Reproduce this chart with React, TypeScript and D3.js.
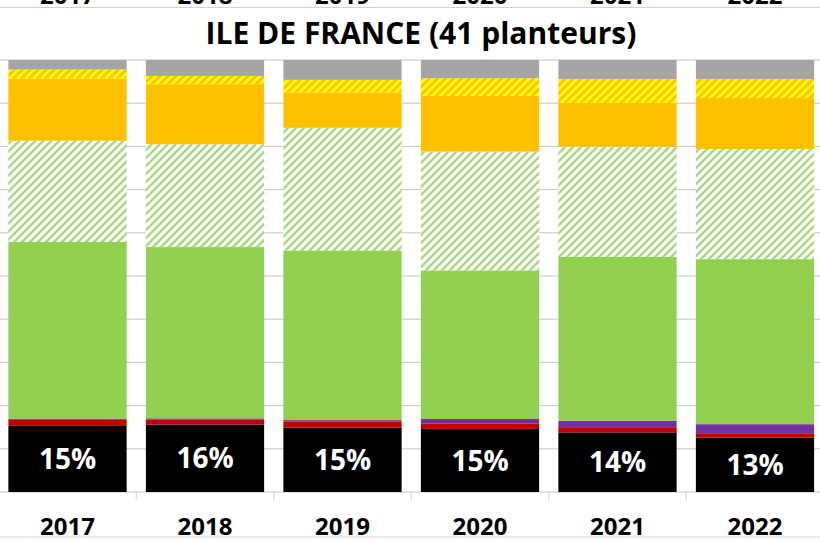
import React from "react";
import * as d3 from "d3";

const width = 820;
const height = 542;

// annees + parts de chaque categorie (en %)
const years = ["2017", "2018", "2019", "2020", "2021", "2022"];
const noir = [15.3, 15.6, 14.9, 14.6, 13.8, 12.6];
const rouge = [1.4, 1.2, 1.4, 1.2, 1.2, 1.0];
const violet = [0.3, 0.25, 0.35, 1.1, 1.5, 2.1];
const vert = [40.9, 39.65, 39.25, 34.4, 37.9, 38.2];
const vertHachure = [23.4, 23.8, 28.4, 27.5, 25.5, 25.5];
const orange = [14.4, 13.9, 8.2, 12.9, 10.2, 11.8];
const jauneHachure = [2.1, 1.9, 2.9, 4.1, 5.5, 4.4];
const gris = [2.2, 3.7, 4.6, 4.2, 4.4, 4.4];
const yTicks = [0, 0.1, 0.2, 0.3, 0.4, 0.5, 0.6, 0.7, 0.8, 0.9, 1];

const keys = ["noir", "rouge", "violet", "vert", "vertHachure", "orange", "jauneHachure", "gris"];
const fills: Record<string, string> = {
  noir: "#000000",
  rouge: "#C00000",
  violet: "#7030A0",
  vert: "#92D050",
  vertHachure: "url(#hatchVert)",
  orange: "#FFC000",
  jauneHachure: "url(#hatchJaune)",
  gris: "#A5A5A5",
};

const font = "'Open Sans', 'DejaVu Sans', sans-serif";

export default function App() {
  const rows = years.map((y, i) => ({
    year: y,
    noir: noir[i],
    rouge: rouge[i],
    violet: violet[i],
    vert: vert[i],
    vertHachure: vertHachure[i],
    orange: orange[i],
    jauneHachure: jauneHachure[i],
    gris: gris[i],
  }));

  const series = d3.stack<any>().keys(keys).offset(d3.stackOffsetExpand)(rows);

  const x = d3.scaleBand().domain(years).range([-1.25, 823.75]).paddingInner(0.14).paddingOuter(0.07);
  const y = d3.scaleLinear().domain([0, 1]).range([492, 60]);
  const pct = d3.format(".0%");
  const total = (i: number) => keys.reduce((s, k) => s + (rows[i] as any)[k], 0);

  // ticks de l'axe des categories (entre les barres)
  const sep = years.slice(1).map((yr) => x(yr)! - (x.step() - x.bandwidth()) / 2);

  return (
    <svg width={width} height={height} style={{ position: "absolute", left: 0, top: 0, background: "#fff" }}>
      <defs>
        <pattern id="hatchVert" patternUnits="userSpaceOnUse" width={8} height={8}>
          <rect width={8} height={8} fill="#ffffff" />
          <path d="M-2,2 l4,-4 M0,8 l8,-8 M6,10 l4,-4" stroke="#A9D985" strokeWidth={2.6} />
        </pattern>
        <pattern id="hatchJaune" patternUnits="userSpaceOnUse" width={8} height={8}>
          <rect width={8} height={8} fill="#FFC000" />
          <path d="M-2,2 l4,-4 M0,8 l8,-8 M6,10 l4,-4" stroke="#FFFF00" strokeWidth={3} />
        </pattern>
      </defs>

      {/* bas du graphique precedent */}
      <line x1={0} x2={width} y1={7.5} y2={7.5} stroke="#D0D0D0" />
      {years.map((yr) => (
        <text key={"t" + yr} x={x(yr)! + x.bandwidth() / 2} y={4} textAnchor="middle"
          fontFamily={font} fontWeight="bold" fontSize={24} fill="#000">{yr}</text>
      ))}

      <text x={421} y={44} textAnchor="middle" fontFamily={font} fontWeight="bold" fontSize={30} fill="#000">
        ILE DE FRANCE (41 planteurs)
      </text>

      {/* grille */}
      {yTicks.map((t) => (
        <line key={"g" + t} x1={0} x2={width} y1={y(t)} y2={y(t)} stroke="#C4C4C4" strokeWidth={1} />
      ))}
      {sep.map((s, i) => (
        <line key={"s" + i} x1={s} x2={s} y1={492} y2={500} stroke="#D0D0D0" />
      ))}

      {series.map((s) => (
        <g key={s.key} fill={fills[s.key]}>
          {s.map((d: any, i: number) => (
            <rect key={i} x={x(d.data.year)} width={x.bandwidth()} y={y(d[1])} height={y(d[0]) - y(d[1])} />
          ))}
        </g>
      ))}

      {/* etiquettes dans le segment noir */}
      {series[0].map((d: any, i: number) => (
        <text key={"l" + i} x={x(d.data.year)! + x.bandwidth() / 2} y={(y(d[0]) + y(d[1])) / 2}
          dy="0.36em" textAnchor="middle" fontFamily={font} fontWeight="bold" fontSize={28} fill="#fff">
          {pct(noir[i] / total(i))}
        </text>
      ))}

      <line x1={0} x2={width} y1={537} y2={537} stroke="#D0D0D0" />
      {years.map((yr) => (
        <text key={"b" + yr} x={x(yr)! + x.bandwidth() / 2} y={535} textAnchor="middle"
          fontFamily={font} fontWeight="bold" fontSize={24} fill="#000">{yr}</text>
      ))}
    </svg>
  );
}
